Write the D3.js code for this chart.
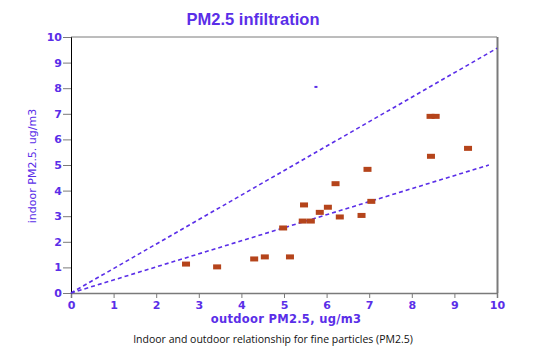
<!DOCTYPE html>
<html><head><meta charset="utf-8">
<script src="https://cdn.jsdelivr.net/npm/d3@7"></script>
<style>body{margin:0;background:#fff}</style>
</head><body>
<svg id="c" width="547" height="356"></svg>
<script>
const outdoor = [2.70,3.43,4.30,4.55,4.98,5.14,5.47,5.44,5.63,5.84,6.03,6.21,6.31,6.82,6.96,7.05,8.44,8.56,8.45,9.32];
const indoor  = [1.13,1.02,1.33,1.41,2.54,1.41,3.44,2.81,2.81,3.15,3.35,4.27,2.97,3.03,4.83,3.58,6.90,6.90,5.34,5.65];
const strayPoint = [[5.75,8.05]];
const upperLine = [[0,0],[10,9.56]];
const lowerLine = [[0,0],[9.81,5.0]];
const ticks = [0,1,2,3,4,5,6,7,8,9,10];
const title = "PM2.5 infiltration";
const xTitle = "outdoor PM2.5, ug/m3";
const yTitle = "indoor PM2.5. ug/m3";
const caption = "Indoor and outdoor relationship for fine particles (PM2.5)";

const blue = "#5a2ee8", brown = "#b5441b", grey = "#7a7a7a";
const svg = d3.select("#c");
const x = d3.scaleLinear().domain([0,10]).range([71,497]);
const y = d3.scaleLinear().domain([0,10]).range([293,37]);

// frame
svg.append("line").attr("x1",x(0)).attr("x2",x(10)).attr("y1",y(10)).attr("y2",y(10)).attr("stroke",grey);
svg.append("line").attr("x1",x(10)+0.5).attr("x2",x(10)+0.5).attr("y1",y(10)).attr("y2",y(0)).attr("stroke",grey).attr("stroke-width",2);

const xa = svg.append("g").attr("transform",`translate(0,${y(0)})`)
  .call(d3.axisBottom(x).tickValues(ticks).tickSize(5).tickPadding(3).tickFormat(d3.format("d")));
const ya = svg.append("g").attr("transform",`translate(${x(0)},0)`)
  .call(d3.axisLeft(y).tickValues(ticks).tickSize(8).tickPadding(1).tickFormat(d3.format("d")));
[xa,ya].forEach(a=>{
  a.selectAll("line").attr("stroke",grey);
  a.selectAll("text").attr("fill",blue).style("font-family","DejaVu Sans").style("font-weight","bold").style("font-size","11px");
});
xa.select(".domain").attr("stroke",grey).attr("stroke-width",1.5);
ya.select(".domain").attr("stroke","#000");

const line = d3.line().x(d=>x(d[0])).y(d=>y(d[1]));
[upperLine,lowerLine].forEach(l=>{
  svg.append("path").attr("d",line(l)).attr("fill","none").attr("stroke",blue)
    .attr("stroke-width",1.6).attr("stroke-dasharray","4,3");
});

svg.append("g").selectAll("rect").data(outdoor.map((v,i)=>[v,indoor[i]])).join("rect")
  .attr("x",d=>x(d[0])-4).attr("y",d=>y(d[1])-2.5).attr("width",8).attr("height",5).attr("fill",brown);

svg.append("g").selectAll("rect").data(strayPoint).join("rect")
  .attr("x",d=>x(d[0])-1.5).attr("y",d=>y(d[1])-1).attr("width",3).attr("height",2).attr("fill",blue);

svg.append("text").attr("x",253).attr("y",25).attr("text-anchor","middle").attr("fill",blue)
  .style("font-family","Liberation Sans").style("font-weight","bold").style("font-size","16.5px").text(title);
svg.append("text").attr("x",286).attr("y",323).attr("text-anchor","middle").attr("fill",blue)
  .style("font-family","DejaVu Sans").style("font-weight","bold").style("font-size","11.5px").style("letter-spacing","0.3px").text(xTitle);
svg.append("text").attr("transform","translate(36,166) rotate(-90)").attr("text-anchor","middle").attr("fill",blue)
  .style("font-family","DejaVu Sans").style("font-size","11px").text(yTitle);
svg.append("text").attr("x",273).attr("y",343).attr("text-anchor","middle").attr("fill","#111")
  .style("font-family","Open Sans").style("font-size","10.5px").text(caption);
</script>
</body></html>
